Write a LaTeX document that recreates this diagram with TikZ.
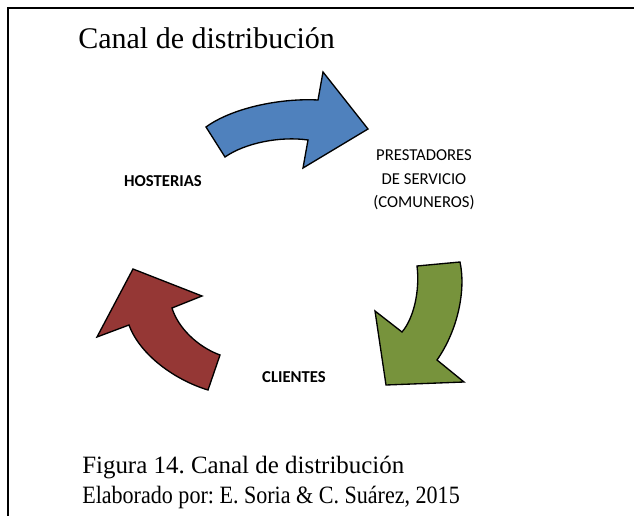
\documentclass[tikz,border=0pt]{standalone}
\usepackage{fontspec}
\setmainfont{Liberation Serif}
\newfontfamily\calibri{Carlito}
\usetikzlibrary{positioning}
\frenchspacing
\definecolor{azul}{RGB}{79,129,189}
\definecolor{verde}{RGB}{119,147,60}
\definecolor{rojo}{RGB}{149,55,53}
\tikzset{
  etiq/.style = {align=center, inner sep=0pt, text centered,
    font=\calibri\fontsize{12.5}{17.6}\selectfont},% etiqueta normal
  etiq_b/.style = {etiq, font=\calibri\bfseries\fontsize{12.5}{17.6}\selectfont},% etiqueta negrita
  flecha/.style = {draw=black, line width=1pt, line join=miter},% flecha curva
  marco/.style = {draw=black, line width=1.5pt},% borde de la figura
  texto/.style = {inner sep=0pt, anchor=base west}
}
\begin{document}
\begin{tikzpicture}[x=0.75pt,y=-0.75pt]
\useasboundingbox (0,0) rectangle (634,516);
\draw [marco] (8,516) -- (8,8) -- (634,8);
\node [texto, font=\fontsize{22.5}{27}\selectfont] (titulo) at (78,49) {Canal de distribución};
% flechas
\draw [flecha, fill=azul] (206,127) .. controls (232,108) and (280,98) .. (318,100)
  -- (323,72) -- (368,129) -- (303,168) -- (308,140)
  .. controls (280,136) and (245,143) .. (225,157) -- cycle;
\draw [flecha, fill=verde] (417,266) -- (460,262)
  .. controls (466,290) and (458,330) .. (437,360)
  -- (464,382) -- (386,385) -- (375,311) -- (402,332)
  .. controls (414,318) and (420,290) .. (417,266) -- cycle;
\draw [flecha, fill=rojo] (133,269) -- (202,296) -- (172,308)
  .. controls (178,328) and (198,347) .. (220,355)
  -- (208,390) .. controls (175,380) and (140,355) .. (129,325)
  -- (97,337) -- cycle;
% nodos
\node [etiq_b] (hosterias) at (163,181) {HOSTERIAS};
\node [etiq] (prestadores) at (424,180) {PRESTADORES\\DE SERVICIO\\(COMUNEROS)};
\node [etiq_b] (clientes) at (294,377) {CLIENTES};
% pie
\node [texto, font=\fontsize{18.7}{23}\selectfont] (pie1) at (82,473) {Figura 14. Canal de distribución};
\node [texto, font=\fontsize{18.7}{23}\selectfont] (pie2) at (82,503) {\scalebox{0.885}[1]{Elaborado por: E. Soria \& C. Suárez, 2015}};
\end{tikzpicture}
\end{document}
